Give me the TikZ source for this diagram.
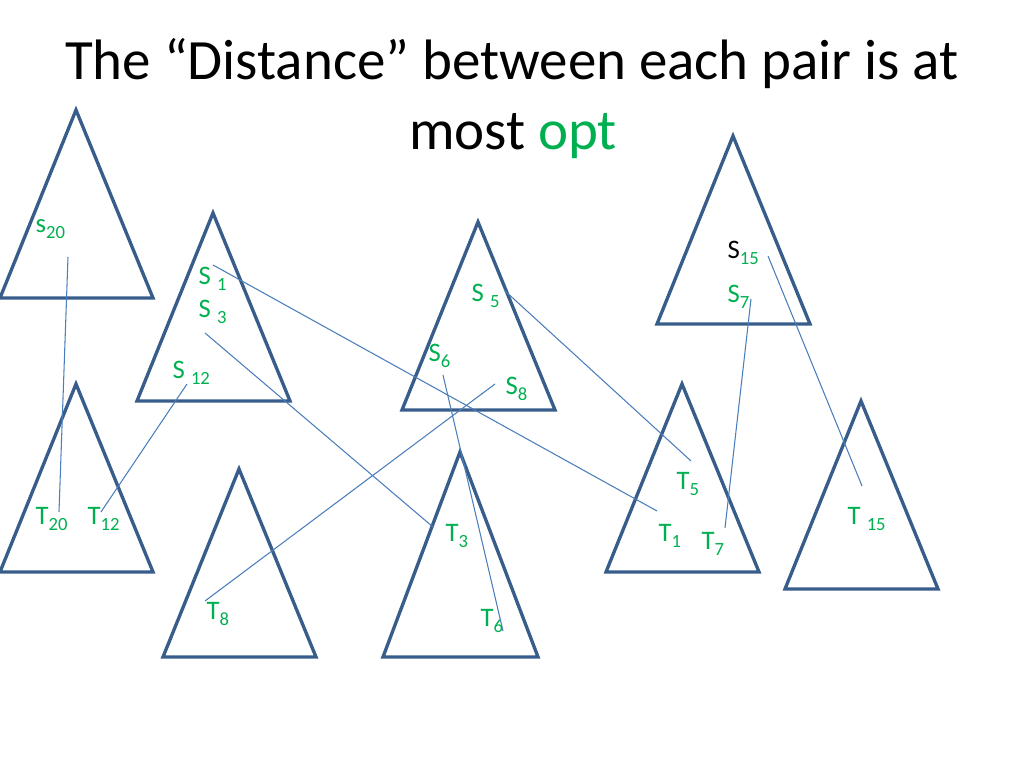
\documentclass[tikz,border=0pt]{standalone}
\usepackage{fontspec}
\setmainfont{Carlito}

\definecolor{treeblue}{RGB}{56,93,138}
\definecolor{pairblue}{RGB}{74,126,187}
\definecolor{optgreen}{RGB}{0,176,80}
\newcommand{\lsub}[1]{\raisebox{-1.6pt}{\fontsize{5.3}{6}\selectfont #1}}

\tikzset{
    tree/.style={draw=treeblue, line width=0.95pt},
    pair/.style={draw=pairblue, line width=0.3pt},
    vertex/.style={anchor=base west, inner sep=0pt, text=optgreen, font=\fontsize{7.6}{8}\selectfont},
    heading/.style={anchor=base, inner sep=0pt, font=\fontsize{16.2}{19}\selectfont},
}

\begin{document}
\begin{tikzpicture}[x=0.01cm, y=-0.01cm]
        \useasboundingbox (0,0) rectangle (1024,768);
        \node[heading] (title) at (512,80) {The “Distance” between each pair is at};
        \node[heading] (title2) at (513,150) {most \textcolor{optgreen}{opt}};

        % trees
        \foreach \x/\y/\name in {76/110/tree s20, 213/213/tree s1, 478/222/tree s5, 733/136/tree s15,
                                 76/384/tree t20, 239/469/tree t8, 682/384/tree t5, 861/401/tree t15}
            \draw[tree] (\x,\y) coordinate (\name) -- ++(-76,188) -- ++(153,0) -- cycle;
        \draw[tree] (460,452) coordinate (tree t3) -- ++(-77,205) -- ++(155,0) -- cycle;

        % sources
        \node[vertex] (s20) at (35,233) {s\lsub{20}};
        \node[vertex] (s1) at (198,285) {S \lsub{1}};
        \node[vertex] (s3) at (198,318) {S \lsub{3}};
        \node[vertex] (s12) at (172,379) {S \lsub{12}};
        \node[vertex] (s5) at (471,302) {S \lsub{5}};
        \node[vertex] (s6) at (428,362) {S\lsub{6}};
        \node[vertex] (s8) at (505,395) {S\lsub{8}};
        \node[vertex] (s15) at (727,259) {\textcolor{black}{S}\lsub{15}};
        \node[vertex] (s7) at (727,303) {S\lsub{7}};

        % targets
        \node[vertex] (t20) at (35,525) {T\lsub{20}};
        \node[vertex] (t12) at (87,525) {T\lsub{12}};
        \node[vertex] (t8) at (206,620) {T\lsub{8}};
        \node[vertex] (t3) at (445,542) {T\lsub{3}};
        \node[vertex] (t6) at (480,627) {T\lsub{6}};
        \node[vertex] (t5) at (676,490) {T\lsub{5}};
        \node[vertex] (t1) at (658,542) {T\lsub{1}};
        \node[vertex] (t7) at (701,550) {T\lsub{7}};
        \node[vertex] (t15) at (847,525) {T \lsub{15}};

        % pair ends
        \coordinate (s20-end) at (68,257);   \coordinate (t20-end) at (59,512);
        \coordinate (s12-end) at (187,384);  \coordinate (t12-end) at (101,512);
        \coordinate (s1-end) at (213,265);   \coordinate (t1-end) at (657,511);
        \coordinate (s3-end) at (205,333);   \coordinate (t3-end) at (433,527);
        \coordinate (s5-end) at (504,290);   \coordinate (t5-end) at (691,461);
        \coordinate (s6-end) at (443,375);   \coordinate (t6-end) at (503,631);
        \coordinate (s8-end) at (495,384);   \coordinate (t8-end) at (205,601);
        \coordinate (s7-end) at (751,299);   \coordinate (t7-end) at (725,528);
        \coordinate (s15-end) at (768,256);  \coordinate (t15-end) at (862,486);

        \foreach \k in {20,12,1,3,5,6,8,7,15}
            \draw[pair] (s\k-end) -- (t\k-end);
    \end{tikzpicture}
\end{document}
